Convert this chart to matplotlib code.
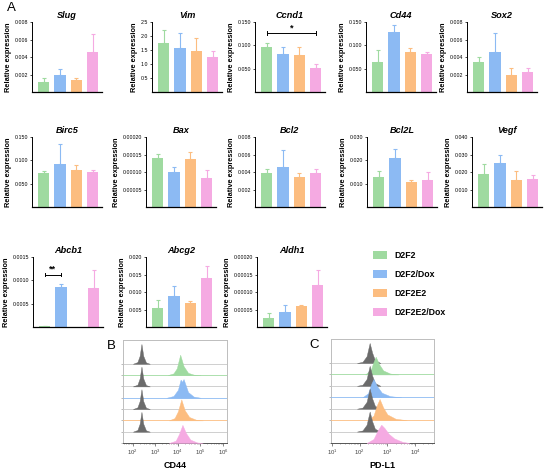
import numpy as np
import matplotlib
matplotlib.use("Agg")
import matplotlib.pyplot as plt
from matplotlib.patches import Patch

plt.rcParams['font.family'] = ['Liberation Sans', 'DejaVu Sans']

# ---- data: qPCR bar charts ----
genes = ['Slug', 'Vim', 'Ccnd1', 'Cd44', 'Sox2',
         'Birc5', 'Bax', 'Bcl2', 'Bcl2L', 'Vegf',
         'Abcb1', 'Abcg2', 'Aldh1']
groups = ['D2F2', 'D2F2/Dox', 'D2F2E2', 'D2F2E2/Dox']
colors = ['#9fdaa0', '#8cbaf3', '#fcbd80', '#f5aae2']

# bar heights per group (one value per gene)
d2f2_mean = [0.0011, 1.74, 0.097, 0.064, 0.00345, 0.0734, 0.000139, 0.00386, 0.0129, 0.019, 0.00002, 0.0055, 0.000025]
d2f2dox_mean = [0.00193, 1.56, 0.0807, 0.1286, 0.0046, 0.092, 0.000099, 0.0046, 0.0208, 0.025, 0.00086, 0.0088, 0.000043]
d2f2e2_mean = [0.0014, 1.47, 0.0786, 0.0857, 0.0019, 0.079, 0.000136, 0.00345, 0.0108, 0.0153, np.nan, 0.0069, 0.000059]
d2f2e2dox_mean = [0.00462, 1.24, 0.052, 0.081, 0.00228, 0.0755, 0.000084, 0.00386, 0.0115, 0.016, 0.00083, 0.014, 0.000121]

# top of the (upper) error bar per group
d2f2_top = [0.0016, 2.22, 0.104, 0.090, 0.0040, 0.078, 0.000152, 0.0043, 0.0155, 0.0247, 0.00003, 0.0078, 0.000041]
d2f2dox_top = [0.0026, 2.12, 0.097, 0.143, 0.0067, 0.135, 0.000115, 0.00655, 0.025, 0.0295, 0.00093, 0.0116, 0.000062]
d2f2e2_top = [0.00163, 1.92, 0.097, 0.095, 0.00277, 0.091, 0.000158, 0.00393, 0.0115, 0.0206, np.nan, 0.0075, 0.000064]
d2f2e2dox_top = [0.00663, 1.45, 0.060, 0.086, 0.00277, 0.079, 0.000105, 0.00438, 0.0148, 0.0183, 0.00122, 0.0174, 0.000162]

ytick_labels = [
    ['0.002', '0.004', '0.006', '0.008'],
    ['0.5', '1.0', '1.5', '2.0', '2.5'],
    ['0.050', '0.100', '0.150'],
    ['0.050', '0.100', '0.150'],
    ['0.002', '0.004', '0.006', '0.008'],
    ['0.050', '0.100', '0.150'],
    ['0.00005', '0.00010', '0.00015', '0.00020'],
    ['0.002', '0.004', '0.006', '0.008'],
    ['0.010', '0.020', '0.030'],
    ['0.010', '0.020', '0.030', '0.040'],
    ['0.0005', '0.0010', '0.0015'],
    ['0.005', '0.010', '0.015', '0.020'],
    ['0.00005', '0.00010', '0.00015', '0.00020'],
]

# significance brackets: gene, from bar, to bar, height, label
sig_gene = ['Ccnd1', 'Abcb1']
sig_from = [0, 0]
sig_to = [3, 1]
sig_y = [0.126, 0.00112]
sig_text = ['*', '**']

# ---- data: flow cytometry histograms (log10 intensity, relative count) ----
cd44_iso_x = [2.0, 2.2, 2.3, 2.38, 2.46, 2.58, 2.75]
cd44_iso_h = [0, 0.15, 0.7, 1.75, 0.7, 0.12, 0]
cd44_x = [[3.55, 3.8, 3.95, 4.1, 4.25, 4.45, 4.7, 5.0],
          [3.5, 3.8, 4.0, 4.12, 4.18, 4.25, 4.45, 4.7, 5.0],
          [3.6, 3.85, 4.0, 4.15, 4.3, 4.5, 4.8, 5.1],
          [3.6, 3.9, 4.05, 4.2, 4.35, 4.55, 4.85, 5.1]]
cd44_h = [[0, 0.15, 0.6, 1.8, 0.8, 0.2, 0.04, 0],
          [0, 0.15, 0.7, 1.6, 1.4, 1.65, 0.5, 0.1, 0],
          [0, 0.2, 0.8, 1.85, 0.9, 0.3, 0.06, 0],
          [0, 0.2, 0.8, 1.6, 0.9, 0.3, 0.05, 0]]

pdl1_iso_x = [1.9, 2.1, 2.25, 2.36, 2.45, 2.55, 2.75]
pdl1_iso_h = [0, 0.1, 0.6, 1.75, 0.9, 0.25, 0]
pdl1_x = [[2.2, 2.4, 2.5, 2.58, 2.7, 2.85, 3.1, 3.4],
          [2.1, 2.3, 2.42, 2.5, 2.62, 2.8, 3.1, 3.5],
          [2.3, 2.5, 2.62, 2.72, 2.85, 3.0, 3.3, 3.7],
          [2.25, 2.5, 2.65, 2.78, 2.9, 3.05, 3.25, 3.55, 3.8]]
pdl1_h = [[0, 0.4, 1.1, 1.55, 0.9, 0.35, 0.08, 0],
          [0, 0.35, 1.2, 1.6, 1.0, 0.4, 0.1, 0],
          [0, 0.4, 1.3, 1.85, 1.1, 0.5, 0.12, 0],
          [0, 0.35, 1.1, 1.6, 1.3, 0.8, 0.4, 0.1, 0]]

W, H = 550, 469
fig = plt.figure(figsize=(W / 100, H / 100), dpi=100)


def px_axes(x, y, w, h):
    return fig.add_axes([x / W, 1 - (y + h) / H, w / W, h / H])


# axes left edges / tops in pixels
col_x = [[32, 152, 255, 366, 467],
         [32, 146, 255, 367, 472],
         [33, 146, 257]]
row_y = [22, 137, 257]

means = np.array([d2f2_mean, d2f2dox_mean, d2f2e2_mean, d2f2e2dox_mean])
tops = np.array([d2f2_top, d2f2dox_top, d2f2e2_top, d2f2e2dox_top])

k = 0
for r, xs in enumerate(col_x):
    for x0 in xs:
        ax = px_axes(x0, row_y[r], 70, 70)
        g = genes[k]
        m = means[:, k]
        t = tops[:, k]
        pos = np.arange(4)
        ax.bar(pos, m, width=0.67, color=colors, edgecolor='none', zorder=2)
        for i in range(4):
            if np.isnan(m[i]):
                continue
            ax.errorbar(pos[i], m[i], yerr=[[0], [t[i] - m[i]]], color=colors[i],
                        capsize=1.6, elinewidth=0.8, capthick=0.8, zorder=1)
        ticks = [float(s) for s in ytick_labels[k]]
        ax.set_ylim(0, ticks[-1])
        ax.set_xlim(-0.7, 3.55)
        ax.set_yticks(ticks)
        ax.set_yticklabels(ytick_labels[k])
        ax.set_xticks([])
        ax.tick_params(axis='y', labelsize=3.8, length=1.8, width=0.5, pad=1)
        for s in ['top', 'right']:
            ax.spines[s].set_visible(False)
        ax.spines['left'].set_linewidth(0.7)
        ax.spines['bottom'].set_linewidth(0.9)
        ax.set_title(g, fontsize=6.6, fontweight='bold', style='italic', pad=3)
        ax.set_ylabel('Relative expression', fontsize=5.3, fontweight='bold', labelpad=2)
        if g in sig_gene:
            j = sig_gene.index(g)
            a, b, yy = sig_from[j], sig_to[j], sig_y[j]
            cap = ticks[-1] * 0.025
            ax.plot([a, b], [yy, yy], color='black', lw=0.7)
            ax.plot([a, a], [yy - cap, yy + cap], color='black', lw=0.7)
            ax.plot([b, b], [yy - cap, yy + cap], color='black', lw=0.7)
            ax.text((a + b) / 2, yy + cap * 0.6, sig_text[j], ha='center', va='bottom',
                    fontsize=6.5, fontweight='bold')
        k += 1

# legend
handles = [Patch(facecolor=c, edgecolor='none') for c in colors]
fig.legend(handles, groups, loc='upper left', bbox_to_anchor=(373 / W, 1 - 251 / H),
           frameon=False, prop={'size': 6.3, 'weight': 'bold'}, handlelength=1.65,
           handleheight=1.0, labelspacing=1.15, handletextpad=0.8, borderpad=0,
           borderaxespad=0)


# flow histograms
def flow_panel(ax, iso_x, iso_h, xs, hs, xlim, dec, xlabel):
    n = 8
    z = 1
    for i in range(n):
        base = n - 1 - i
        if i % 2 == 0:
            hx, hh, c, ec = iso_x, iso_h, '#6b6b6b', '#6b6b6b'
            lc = '#c8c8c8'
        else:
            hx, hh = xs[i // 2], hs[i // 2]
            c = ec = colors[i // 2]
            lc = colors[i // 2]
        ax.axhline(base, color=lc, lw=0.6, zorder=z)
        ax.fill_between(10 ** np.array(hx), base, base + np.array(hh),
                        color=c, edgecolor=ec, lw=0.3, zorder=z + 1)
        z += 2
    ax.set_xscale('log')
    ax.set_xlim(10 ** xlim[0], 10 ** xlim[1])
    ax.set_ylim(0, 9.1)
    ax.set_xticks([10.0 ** d for d in dec])
    ax.set_yticks(range(8))
    ax.set_yticklabels([])
    ax.tick_params(axis='y', length=1.2, width=0.4, color='#888888', pad=0)
    ax.tick_params(axis='x', which='major', labelsize=4.3, length=2, width=0.5,
                   color='#555555', labelcolor='#444444', pad=1.5)
    ax.tick_params(axis='x', which='minor', length=1, width=0.4, color='#777777')
    for s in ax.spines.values():
        s.set_color('#bdbdbd')
        s.set_linewidth(0.7)
    ax.spines['bottom'].set_color('#555555')
    ax.set_xlabel(xlabel, fontsize=6.5, fontweight='bold', labelpad=3)


axB = px_axes(123, 340, 104, 103)
flow_panel(axB, cd44_iso_x, cd44_iso_h, cd44_x, cd44_h, (1.56, 6.18), [2, 3, 4, 5, 6], 'CD44')
axC = px_axes(331, 339, 103, 104)
flow_panel(axC, pdl1_iso_x, pdl1_iso_h, pdl1_x, pdl1_h, (0.96, 4.69), [1, 2, 3, 4], 'PD-L1')

fig.text(11 / W, 1 - 8 / H, 'A', fontsize=9.5, ha='center', va='center')
fig.text(111 / W, 1 - 346 / H, 'B', fontsize=9.5, ha='center', va='center')
fig.text(314 / W, 1 - 345 / H, 'C', fontsize=9.5, ha='center', va='center')

fig.savefig('out.png', dpi=100)
